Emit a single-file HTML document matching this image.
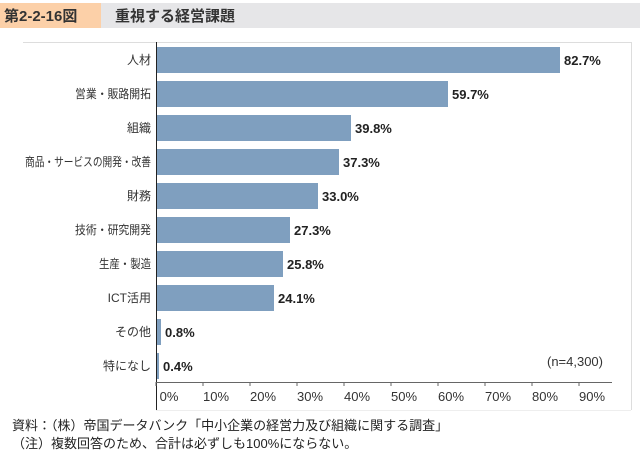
<!DOCTYPE html>
<html><head><meta charset="utf-8"><style>
body{margin:0;background:#fff;width:640px;height:455px;overflow:hidden;font-family:"Liberation Sans","Noto Sans CJK JP",sans-serif;}
</style></head><body>
<svg width="640" height="455" xmlns="http://www.w3.org/2000/svg" style="font-family:'Liberation Sans','Noto Sans CJK JP',sans-serif">
<rect x="0" y="3" width="101" height="25" fill="#fcd0a8"/>
<rect x="101" y="3" width="539" height="25" fill="#e6e6e8"/>
<text x="4" y="21" font-size="15" font-weight="bold" fill="#333">第2-2-16図</text>
<text x="115" y="21" font-size="15" font-weight="bold" fill="#333">重視する経営課題</text>
<line x1="23" y1="42.5" x2="632" y2="42.5" stroke="#ddd"/>
<line x1="631.5" y1="42" x2="631.5" y2="410" stroke="#ddd"/>
<line x1="156" y1="410.5" x2="631" y2="410.5" stroke="#eee"/>
<g fill="#7f9fbf">
<rect x="157" y="47" width="403" height="26"/>
<rect x="157" y="81" width="291" height="26"/>
<rect x="157" y="115" width="194" height="26"/>
<rect x="157" y="149" width="182" height="26"/>
<rect x="157" y="183" width="161" height="26"/>
<rect x="157" y="217" width="133" height="26"/>
<rect x="157" y="251" width="126" height="26"/>
<rect x="157" y="285" width="117" height="26"/>
<rect x="157" y="319" width="4" height="26"/>
<rect x="157" y="353" width="2" height="26"/>
</g>
<line x1="156.5" y1="42" x2="156.5" y2="410" stroke="#222"/>
<line x1="156" y1="382.5" x2="612" y2="382.5" stroke="#666"/>
<g stroke="#666">
<line x1="156" y1="382" x2="156" y2="386"/><line x1="203" y1="382" x2="203" y2="386"/><line x1="250" y1="382" x2="250" y2="386"/><line x1="297" y1="382" x2="297" y2="386"/><line x1="344" y1="382" x2="344" y2="386"/><line x1="391" y1="382" x2="391" y2="386"/><line x1="438" y1="382" x2="438" y2="386"/><line x1="485" y1="382" x2="485" y2="386"/><line x1="532" y1="382" x2="532" y2="386"/><line x1="579" y1="382" x2="579" y2="386"/>
</g>
<g font-size="13" fill="#333" text-anchor="middle">
<text x="169" y="401">0%</text><text x="216" y="401">10%</text><text x="263" y="401">20%</text><text x="310" y="401">30%</text><text x="357" y="401">40%</text><text x="404" y="401">50%</text><text x="451" y="401">60%</text><text x="498" y="401">70%</text><text x="545" y="401">80%</text><text x="592" y="401">90%</text>
</g>
<g font-size="12" fill="#333" text-anchor="end">
<text x="151" y="64">人材</text>
<text x="151" y="98" textLength="76" lengthAdjust="spacingAndGlyphs">営業・販路開拓</text>
<text x="151" y="132">組織</text>
<text x="151" y="166" textLength="126" lengthAdjust="spacingAndGlyphs">商品・サービスの開発・改善</text>
<text x="151" y="200">財務</text>
<text x="151" y="234" textLength="76" lengthAdjust="spacingAndGlyphs">技術・研究開発</text>
<text x="151" y="268" textLength="52" lengthAdjust="spacingAndGlyphs">生産・製造</text>
<text x="151" y="302">ICT活用</text><text x="151" y="336">その他</text><text x="151" y="370">特になし</text>
</g>
<g font-size="13" font-weight="bold" fill="#222">
<text x="564" y="65">82.7%</text><text x="452" y="99">59.7%</text><text x="355" y="133">39.8%</text><text x="343" y="167">37.3%</text><text x="322" y="201">33.0%</text><text x="294" y="235">27.3%</text><text x="287" y="269">25.8%</text><text x="278" y="303">24.1%</text><text x="165" y="337">0.8%</text><text x="163" y="371">0.4%</text>
</g>
<text x="603" y="366" font-size="13" fill="#333" text-anchor="end">(n=4,300)</text>
<text x="12" y="430" font-size="13" fill="#222">資料：（株）帝国データバンク「中小企業の経営力及び組織に関する調査」</text>
<text x="12" y="448" font-size="13" fill="#222">（注）複数回答のため、合計は必ずしも100%にならない。</text>
</svg>
</body></html>
